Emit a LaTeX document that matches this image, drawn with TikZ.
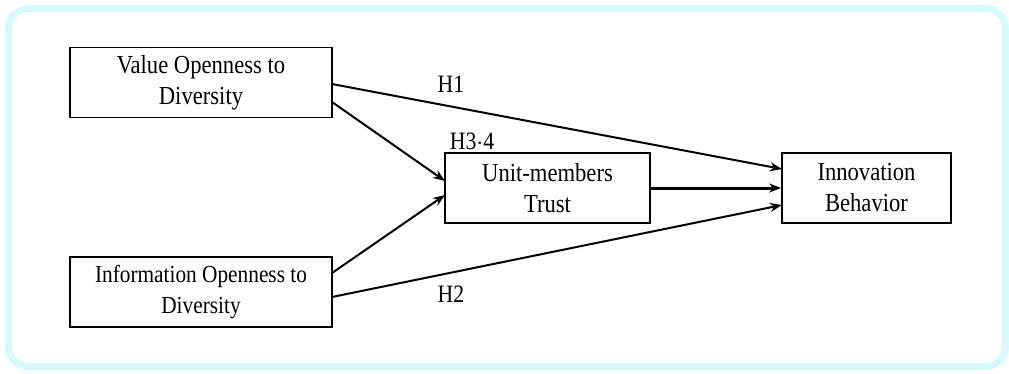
\documentclass[tikz,border=0pt]{standalone}
\usepackage{fontspec}
\setmainfont[FakeStretch=0.87]{Liberation Serif}
\usetikzlibrary{arrows.meta}
\definecolor{framecyan}{HTML}{D6FAFC}
\tikzset{
  box/.style={draw=black, line width=1.8pt, fill=white, minimum width=#1, minimum height=70pt, align=center, inner sep=0pt, font=\fontsize{26}{31}\selectfont},
  box/.default=262pt,
  link/.style={draw=black, line width=2pt, -{Stealth[length=12pt,width=9pt]}},
  lbl/.style={font=\fontsize{25}{25}\selectfont, inner sep=0pt}
}
\begin{document}
\begin{tikzpicture}[x=1pt,y=-1pt]
\useasboundingbox (0,0) rectangle (1009,373);
\draw[framecyan, line width=7pt, rounded corners=20pt, fill=white] (8.5,8.5) rectangle (1005.5,366.5);
\node[box=262pt] (val) at (201,82.5) {Value Openness to\\Diversity};
\node[box=262pt, font=\fontsize{24.5}{31}\selectfont] (inf) at (201,292) {Information Openness to\\Diversity};
\node[box=205pt] (tru) at (547.5,188) {Unit-members\\Trust};
\node[box=169pt] (inn) at (866.5,188) {Innovation\\Behavior};
\coordinate (v1) at (332,84);
\coordinate (v2) at (332,102);
\coordinate (i1) at (332,273);
\coordinate (i2) at (332,297);
\coordinate (t1) at (445,181);
\coordinate (t2) at (445,195);
\coordinate (n1) at (782,169);
\coordinate (n3) at (782,205);
\draw[link] (v1) -- (n1);
\draw[link] (v2) -- (t1);
\draw[link] (i1) -- (t2);
\draw[link] (i2) -- (n3);
\draw[link, line width=3pt] (tru.east) -- (inn.west);
\node[lbl] (h1) at (451,84) {H1};
\node[lbl] (h34) at (472,141) {H3$\cdot$4};
\node[lbl] (h2) at (451,294) {H2};
\end{tikzpicture}
\end{document}
